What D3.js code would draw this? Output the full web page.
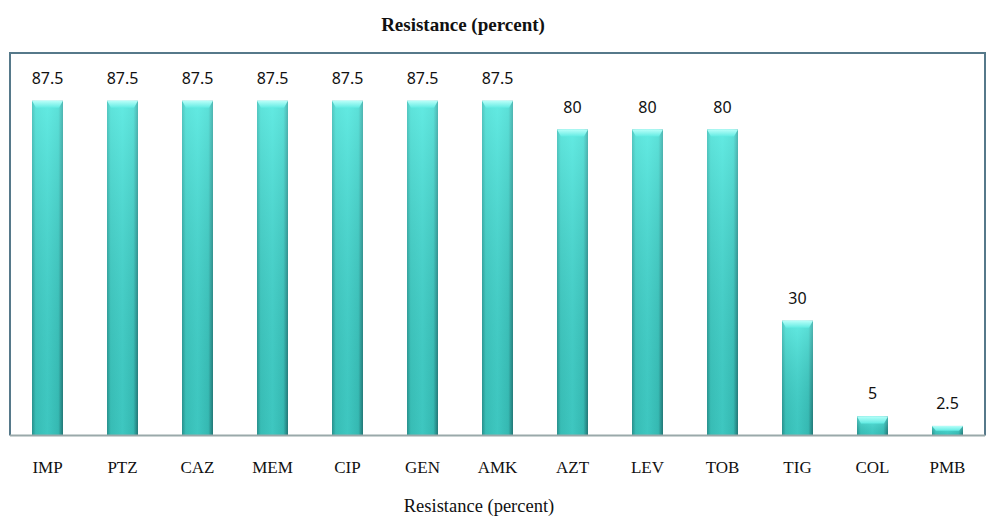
<!DOCTYPE html>
<html>
<head>
<meta charset="utf-8">
<script src="https://cdn.jsdelivr.net/npm/d3@7"></script>
<style>
  body { margin: 0; background: #fff; }
</style>
</head>
<body>
<div id="chart"></div>
<script>
// 抗藥性資料
const drugs = ["IMP", "PTZ", "CAZ", "MEM", "CIP", "GEN", "AMK", "AZT", "LEV", "TOB", "TIG", "COL", "PMB"];
const resistance = [87.5, 87.5, 87.5, 87.5, 87.5, 87.5, 87.5, 80, 80, 80, 30, 5, 2.5];
const valueLabels = ["87.5", "87.5", "87.5", "87.5", "87.5", "87.5", "87.5", "80", "80", "80", "30", "5", "2.5"];
const chartTitle = "Resistance (percent)";
const axisTitle = "Resistance (percent)";

const width = 1000, height = 526;
const data = drugs.map((d, i) => ({ drug: d, value: resistance[i], label: valueLabels[i] }));

const svg = d3.select("#chart").append("svg")
    .attr("width", width)
    .attr("height", height);

// 漸層
const defs = svg.append("defs");
const hGrad = defs.append("linearGradient").attr("id", "hgrad")
    .attr("x1", "0").attr("x2", "1").attr("y1", "0").attr("y2", "0");
hGrad.append("stop").attr("offset", "0%").attr("stop-color", "#2a8f8c");
hGrad.append("stop").attr("offset", "12%").attr("stop-color", "#3fc9c1");
hGrad.append("stop").attr("offset", "50%").attr("stop-color", "#47d6cf");
hGrad.append("stop").attr("offset", "85%").attr("stop-color", "#3cc4bd");
hGrad.append("stop").attr("offset", "100%").attr("stop-color", "#236f70");

const vGrad = defs.append("linearGradient").attr("id", "vgrad")
    .attr("x1", "0").attr("x2", "0").attr("y1", "0").attr("y2", "1");
vGrad.append("stop").attr("offset", "0%").attr("stop-color", "#7ffff6").attr("stop-opacity", 0.5);
vGrad.append("stop").attr("offset", "100%").attr("stop-color", "#1a8a84").attr("stop-opacity", 0.2);

const bevelGrad = defs.append("linearGradient").attr("id", "bgrad")
    .attr("x1", "0").attr("x2", "0").attr("y1", "0").attr("y2", "1");
bevelGrad.append("stop").attr("offset", "0%").attr("stop-color", "#b8fff9");
bevelGrad.append("stop").attr("offset", "100%").attr("stop-color", "#62ebe3");

// 比例尺
const x = d3.scaleBand()
    .domain(drugs)
    .range([10, 985])
    .paddingInner(0.587)
    .paddingOuter(0.2935);

const y = d3.scaleLinear()
    .domain([0, 100])
    .range([435.5, 53]);

// 外框
svg.append("path")
    .attr("d", `M${x.range()[0]},${y(0)} V${y(100)} H${x.range()[1]} V${y(0)}`)
    .attr("fill", "none")
    .attr("stroke", "#56798a")
    .attr("stroke-width", 2);

// 長條
const bars = svg.selectAll(".bar").data(data).enter().append("g").attr("class", "bar");

bars.append("rect")
    .attr("x", d => x(d.drug))
    .attr("y", d => y(d.value))
    .attr("width", x.bandwidth())
    .attr("height", d => y(0) - y(d.value))
    .attr("fill", "url(#hgrad)");

bars.append("rect")
    .attr("x", d => x(d.drug))
    .attr("y", d => y(d.value))
    .attr("width", x.bandwidth())
    .attr("height", d => y(0) - y(d.value))
    .attr("fill", "url(#vgrad)");

// 頂部斜面
bars.append("path")
    .attr("d", d => {
        const x0 = x(d.drug), x1 = x0 + x.bandwidth(), t = y(d.value);
        const h = Math.min(7, (y(0) - t) / 2);
        return `M${x0},${t} H${x1} L${x1 - 4},${t + h} H${x0 + 4} Z`;
    })
    .attr("fill", "url(#bgrad)");

// 數值標籤
bars.append("text")
    .attr("x", d => x(d.drug) + x.bandwidth() / 2)
    .attr("y", d => y(d.value) - 17)
    .attr("text-anchor", "middle")
    .style("font-family", "'Noto Sans', sans-serif")
    .style("font-size", "16px")
    .style("fill", "#111")
    .text(d => d.label);

// x 軸
const xAxis = svg.append("g")
    .attr("transform", `translate(0,${y(0)})`)
    .call(d3.axisBottom(x).tickSize(0).tickPadding(0));
xAxis.select(".domain")
    .attr("d", `M${x.range()[0]},0 H${x.range()[1]}`)
    .attr("stroke", "#9aa9aa")
    .attr("stroke-width", 2);
xAxis.selectAll("text")
    .attr("y", 37)
    .attr("dy", 0)
    .style("font-family", "'Liberation Serif', serif")
    .style("font-size", "17px")
    .style("fill", "#111");

// 標題
svg.append("text")
    .attr("x", 463)
    .attr("y", 31)
    .attr("text-anchor", "middle")
    .style("font-family", "'Liberation Serif', serif")
    .style("font-weight", "bold")
    .style("font-size", "19px")
    .style("fill", "#111")
    .text(chartTitle);

svg.append("text")
    .attr("x", 479)
    .attr("y", 512)
    .attr("text-anchor", "middle")
    .style("font-family", "'Liberation Serif', serif")
    .style("font-size", "18.5px")
    .style("fill", "#111")
    .text(axisTitle);
</script>
</body>
</html>
